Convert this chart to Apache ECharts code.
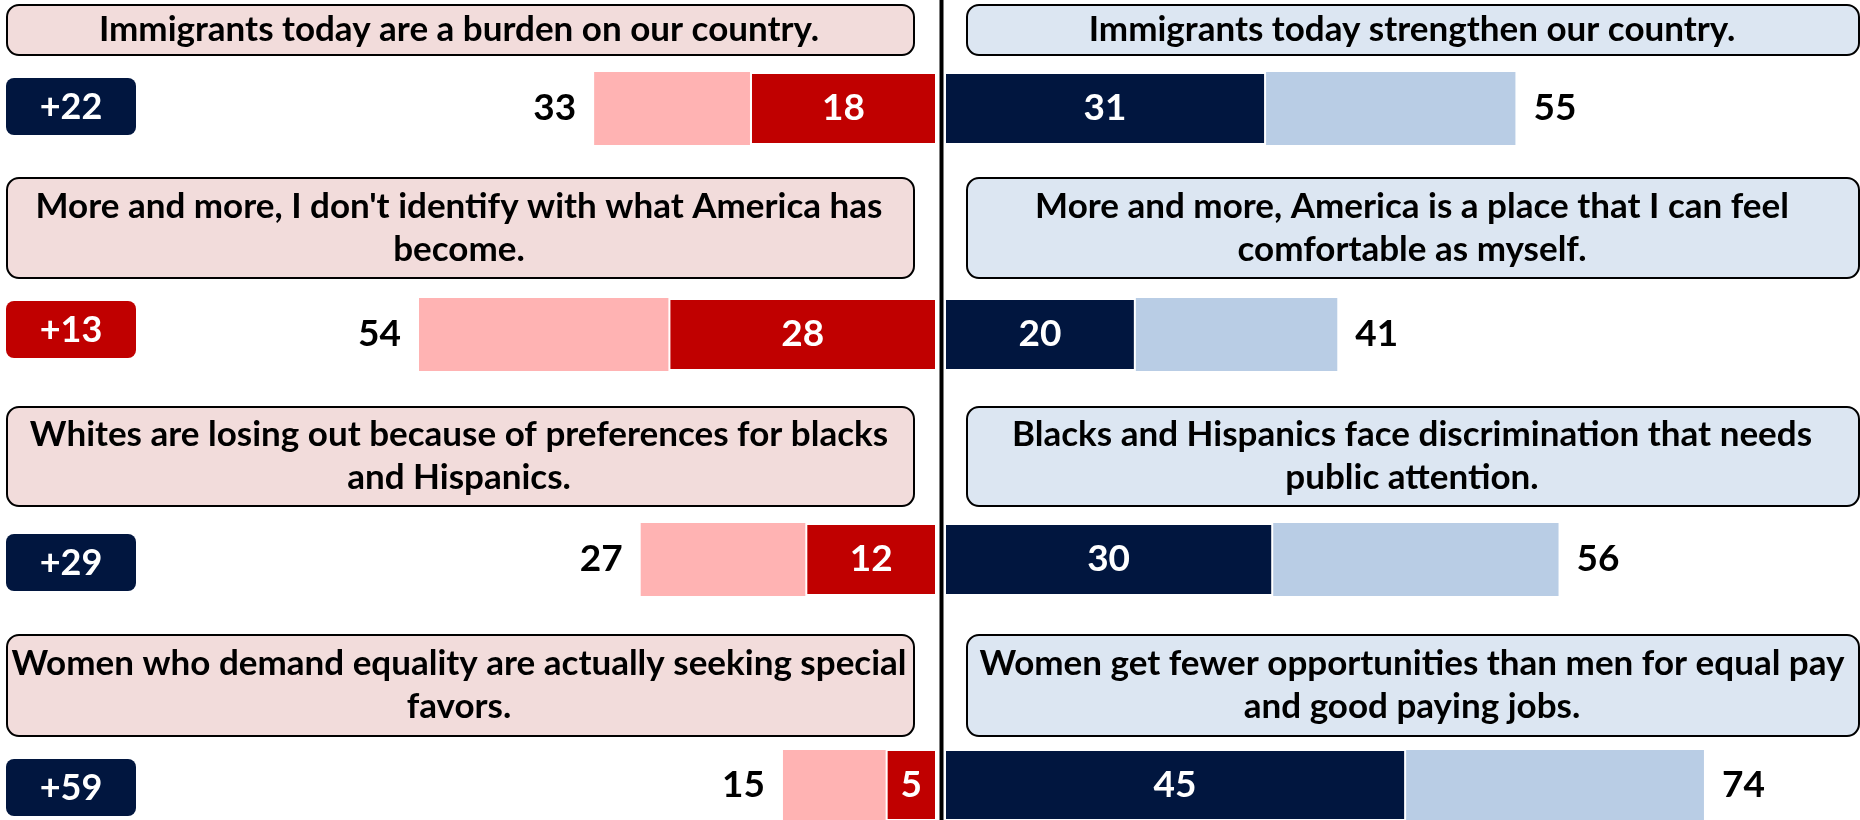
<!DOCTYPE html>
<html>
<head>
<meta charset="utf-8">
<title>Attitudes</title>
<script src="https://cdn.jsdelivr.net/npm/echarts@6/dist/echarts.min.js"></script>
<style>
  html, body { margin: 0; padding: 0; background: #ffffff; }
  #chart { width: 1860px; height: 820px; }
</style>
</head>
<body>
<div id="chart"></div>
<script>
// statements, one per row (left = negative side, right = positive side)
const leftStatements = [
  "Immigrants today are a burden on our country.",
  "More and more, I don't identify with what America has\nbecome.",
  "Whites are losing out because of preferences for blacks\nand Hispanics.",
  "Women who demand equality are actually seeking special\nfavors."
];
const rightStatements = [
  "Immigrants today strengthen our country.",
  "More and more, America is a place that I can feel\ncomfortable as myself.",
  "Blacks and Hispanics face discrimination that needs\npublic attention.",
  "Women get fewer opportunities than men for equal pay\nand good paying jobs."
];

// values
const negTotal = [33, 54, 27, 15];
const negStrong = [18, 28, 12, 5];
const posTotal = [55, 41, 56, 74];
const posStrong = [31, 20, 30, 45];

// net badges
const netLabels = ["+22", "+13", "+29", "+59"];
const netSide = ["pos", "neg", "pos", "pos"];

// layout
const barTop = [72, 298, 523, 750];
const barH = 73;
const boxTop = [4, 177, 406, 634];
const boxBottom = [54, 277, 505, 735];
const badgeTop = [78, 301, 534, 759];
const axisMax = [77.0, 83.4, 72.9, 77.9]; // each row was its own chart, scale differs a bit

const FONT = 'Lato, "Open Sans", sans-serif';
const NAVY = "#01163f";
const RED = "#c00000";
const PINK = "#ffb3b3";
const LIGHTBLUE = "#b9cde5";

const chart = echarts.init(document.getElementById("chart"));

const grid = [], xAxis = [], yAxis = [], series = [];

for (let i = 0; i < 4; i++) {
  // left (negative) grid
  grid.push({ left: 137, width: 800, top: barTop[i], height: barH });
  // right (positive) grid
  grid.push({ left: 944, width: 800, top: barTop[i], height: barH });

  xAxis.push({ gridIndex: 2 * i, type: "value", min: 0, max: axisMax[i], inverse: true, show: false });
  xAxis.push({ gridIndex: 2 * i + 1, type: "value", min: 0, max: axisMax[i], show: false });
  yAxis.push({ gridIndex: 2 * i, type: "category", data: ["r" + i], show: false });
  yAxis.push({ gridIndex: 2 * i + 1, type: "category", data: ["r" + i], show: false });

  const outerLabel = (pos) => ({
    show: true,
    position: pos,
    distance: 18,
    color: "#000",
    fontFamily: FONT,
    fontWeight: "bold",
    fontSize: 37
  });
  const innerLabel = {
    show: true,
    position: "inside",
    color: "#fff",
    fontFamily: FONT,
    fontWeight: "bold",
    fontSize: 37
  };

  series.push({
    type: "bar", xAxisIndex: 2 * i, yAxisIndex: 2 * i,
    data: [negTotal[i]], barWidth: barH, barGap: "-100%",
    itemStyle: { color: PINK },
    label: outerLabel("left"),
    silent: true
  });
  series.push({
    type: "bar", xAxisIndex: 2 * i, yAxisIndex: 2 * i,
    data: [negStrong[i]], barWidth: barH, barGap: "-100%",
    itemStyle: { color: RED, borderColor: "#fff", borderWidth: 2 },
    label: innerLabel,
    silent: true
  });
  series.push({
    type: "bar", xAxisIndex: 2 * i + 1, yAxisIndex: 2 * i + 1,
    data: [posTotal[i]], barWidth: barH, barGap: "-100%",
    itemStyle: { color: LIGHTBLUE },
    label: outerLabel("right"),
    silent: true
  });
  series.push({
    type: "bar", xAxisIndex: 2 * i + 1, yAxisIndex: 2 * i + 1,
    data: [posStrong[i]], barWidth: barH, barGap: "-100%",
    itemStyle: { color: NAVY, borderColor: "#fff", borderWidth: 2 },
    label: innerLabel,
    silent: true
  });
}

// statement boxes, badges and the centre line
const graphic = [];
for (let i = 0; i < 4; i++) {
  const h = boxBottom[i] - boxTop[i];
  graphic.push({
    type: "rect", left: 6, top: boxTop[i],
    shape: { width: 907, height: h, r: 12 },
    style: { fill: "#f2dcdb", stroke: "#000", lineWidth: 2 }
  });
  graphic.push({
    type: "rect", left: 966, top: boxTop[i],
    shape: { width: 892, height: h, r: 12 },
    style: { fill: "#dce6f2", stroke: "#000", lineWidth: 2 }
  });
  graphic.push({
    type: "text", x: 459, y: boxTop[i] + h / 2 + 1,
    style: {
      text: leftStatements[i], align: "center", verticalAlign: "middle",
      font: "bold 35px " + FONT, lineHeight: 43, fill: "#000"
    }
  });
  graphic.push({
    type: "text", x: 1412, y: boxTop[i] + h / 2 + 1,
    style: {
      text: rightStatements[i], align: "center", verticalAlign: "middle",
      font: "bold 35px " + FONT, lineHeight: 43, fill: "#000"
    }
  });
  graphic.push({
    type: "rect", left: 6, top: badgeTop[i],
    shape: { width: 130, height: 57, r: 8 },
    style: { fill: netSide[i] === "pos" ? NAVY : RED }
  });
  graphic.push({
    type: "text", x: 71, y: badgeTop[i] + 29,
    style: {
      text: netLabels[i], align: "center", verticalAlign: "middle",
      font: "bold 36px " + FONT, fill: "#fff"
    }
  });
}
graphic.push({
  type: "line", z: 100,
  shape: { x1: 941.5, y1: 0, x2: 941.5, y2: 820 },
  style: { stroke: "#000", lineWidth: 4 }
});

chart.setOption({
  animation: false,
  grid: grid,
  xAxis: xAxis,
  yAxis: yAxis,
  series: series,
  graphic: graphic
});
</script>
</body>
</html>
